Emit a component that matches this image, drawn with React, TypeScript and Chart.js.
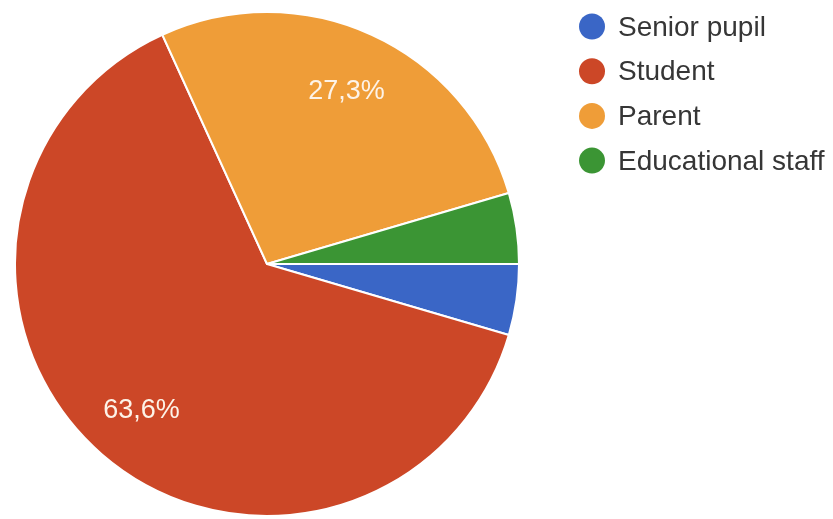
import React, { useEffect, useRef } from "react";
import { Chart, registerables } from "chart.js";

Chart.register(...registerables);

// Respondent groups and their answer counts (22 responses)
const categories = ["Senior pupil", "Student", "Parent", "Educational staff"];
const counts = [1, 14, 6, 1];
const sliceColors = ["#3a66c6", "#cc4727", "#ef9d38", "#3b9534"];

const FONT = '"Liberation Sans", Arial, Helvetica, sans-serif';

// Percentage text inside the larger slices, comma as decimal separator
const sliceLabels = {
  id: "sliceLabels",
  afterDatasetsDraw(chart: Chart) {
    const ctx = chart.ctx;
    const meta = chart.getDatasetMeta(0);
    const data = chart.data.datasets[0].data as number[];
    const total = data.reduce((a, b) => a + b, 0);
    const size = 27;
    ctx.save();
    ctx.font = `${size}px ${FONT}`;
    ctx.fillStyle = "#fdf3e8";
    ctx.textAlign = "center";
    ctx.textBaseline = "alphabetic";
    meta.data.forEach((el: any, i: number) => {
      const share = data[i] / total;
      if (share < 0.1) return;
      const { x, y, startAngle, endAngle, outerRadius } = el.getProps(
        ["x", "y", "startAngle", "endAngle", "outerRadius"],
        true
      );
      const mid = (startAngle + endAngle) / 2;
      const r = outerRadius * 0.76;
      const lx = x + Math.cos(mid) * r;
      const ly = y + Math.sin(mid) * r;
      const text = (share * 100).toFixed(1).replace(".", ",") + "%";
      ctx.fillText(text, lx, ly + size * 0.358);
    });
    ctx.restore();
  },
};

// Legend column to the right of the pie
const sideLegend = {
  id: "sideLegend",
  afterDraw(chart: Chart) {
    const ctx = chart.ctx;
    const size = 28;
    ctx.save();
    ctx.font = `${size}px ${FONT}`;
    ctx.textAlign = "left";
    ctx.textBaseline = "alphabetic";
    categories.forEach((name, i) => {
      const cy = 25.5 + i * 44.7;
      ctx.beginPath();
      ctx.arc(592, cy + 1, 13, 0, Math.PI * 2);
      ctx.fillStyle = sliceColors[i];
      ctx.fill();
      ctx.fillStyle = "#363636";
      ctx.fillText(name, 618, cy + size * 0.358);
    });
    ctx.restore();
  },
};

export default function App() {
  const canvasRef = useRef<HTMLCanvasElement | null>(null);

  useEffect(() => {
    if (!canvasRef.current) return;
    const chart = new Chart(canvasRef.current, {
      type: "pie",
      data: {
        labels: categories,
        datasets: [
          {
            data: counts,
            backgroundColor: sliceColors,
            borderColor: "#ffffff",
            borderWidth: 2,
          },
        ],
      },
      options: {
        responsive: false,
        animation: false,
        rotation: 90,
        layout: { padding: { left: 14, top: 11, right: 313, bottom: 2 } },
        plugins: {
          legend: { display: false },
          tooltip: { enabled: false },
        },
      },
      plugins: [sliceLabels, sideLegend],
    });
    return () => chart.destroy();
  }, []);

  return (
    <div style={{ position: "fixed", left: 0, top: 0, width: 833, height: 519, background: "#ffffff" }}>
      <canvas ref={canvasRef} width={833} height={519} style={{ display: "block" }} />
    </div>
  );
}
